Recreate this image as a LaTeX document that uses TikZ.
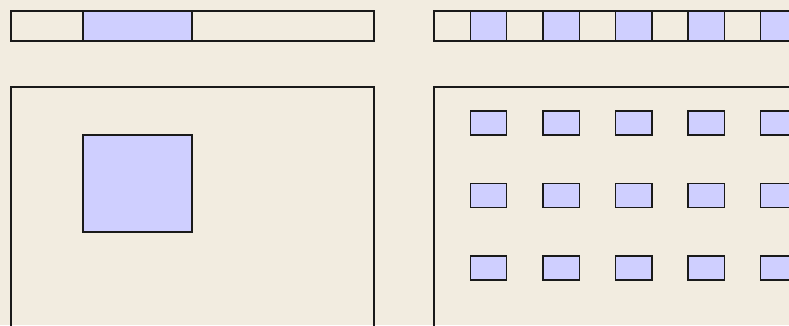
\documentclass[tikz,border=0pt]{standalone}
\definecolor{bg}{HTML}{F2ECE0}
\definecolor{cell}{HTML}{CFCFFF}
\definecolor{ink}{HTML}{1A1A1A}
\begin{document}
\begin{tikzpicture}[x=1pt,y=-1pt,
  frame/.style={draw=ink,line width=1.4pt},
  bluebox/.style={draw=ink,fill=cell,line width=1.4pt}]
\fill[bg] (0,0) rectangle (789,325);
\useasboundingbox (0,0) rectangle (789,325);
% left
\draw[frame] (11,11) rectangle (374,41);
\draw[bluebox] (83,11) rectangle (192,41);
\draw[frame] (11,87) rectangle (374,340);
\draw[bluebox] (83,135) rectangle (192,232);
% right
\draw[frame] (434,11) rectangle (797,41);
\foreach \i in {0,...,9} {
  \pgfmathsetmacro{\xa}{434+36.3*\i}
  \pgfmathsetmacro{\xb}{434+36.3*(\i+1)}
  \ifodd\i
    \draw[bluebox] (\xa,11) rectangle (\xb,41);
  \else
    \draw[frame] (\xa,11) rectangle (\xb,41);
  \fi
}
\draw[frame] (434,87) rectangle (797,340);
\foreach \c in {0,...,4} {
  \foreach \r in {0,1,2} {
    \pgfmathsetmacro{\xa}{470.3+72.6*\c}
    \pgfmathsetmacro{\ya}{111+72.5*\r}
    \draw[bluebox] (\xa,\ya) rectangle ++(36.3,24);
  }
}
\end{tikzpicture}
\end{document}
